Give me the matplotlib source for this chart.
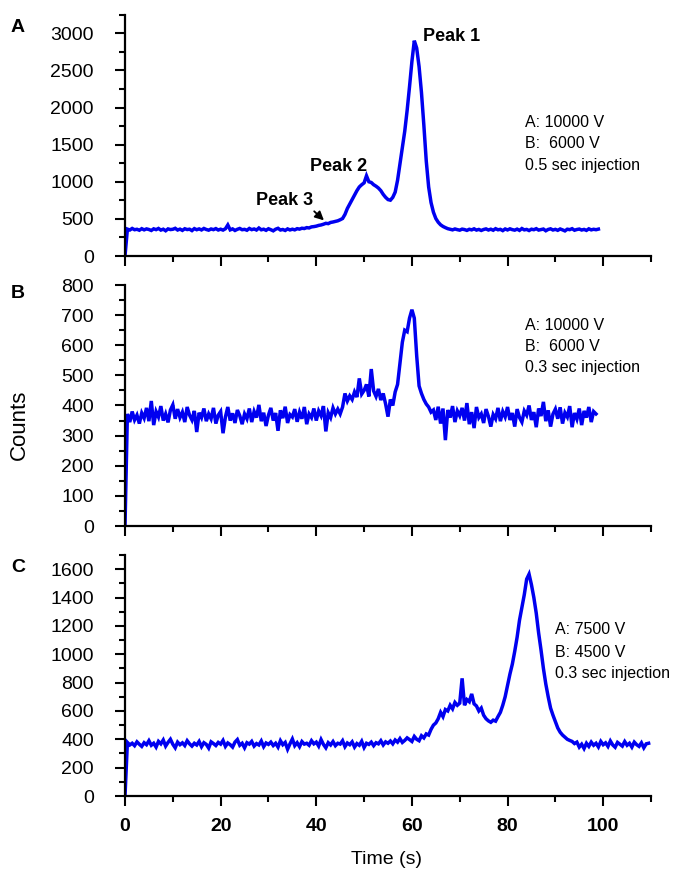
import numpy as np
import matplotlib
matplotlib.use("Agg")
import matplotlib.pyplot as plt
from matplotlib.ticker import MultipleLocator

plt.rcParams['font.family'] = ['Liberation Sans', 'DejaVu Sans']

# Electropherograms sampled every 0.5 s
step = 0.5

counts_a = [
    0, 362, 350, 371, 354, 360, 347, 368, 352, 365,
    357, 344, 366, 355, 371, 349, 361, 340, 365, 356,
    360, 373, 350, 362, 345, 367, 356, 361, 342, 369,
    354, 365, 351, 371, 357, 348, 364, 355, 369, 350,
    361, 349, 367, 418, 352, 365, 344, 360, 371, 354,
    359, 347, 371, 355, 364, 350, 377, 353, 361, 346,
    367, 354, 339, 361, 373, 350, 357, 344, 365, 351,
    361, 352, 368, 362, 374, 370, 382, 378, 392, 396,
    402, 412, 418, 428, 440, 436, 452, 458, 466, 474,
    488, 505, 560, 640, 700, 760, 820, 880, 930, 960,
    985, 1080, 1000, 990, 960, 940, 915, 880, 830, 790,
    760, 752, 790, 860, 1020, 1240, 1450, 1680, 1960, 2280,
    2620, 2900, 2800, 2550, 2200, 1760, 1280, 930, 720, 590,
    505, 455, 420, 398, 382, 368, 360, 352, 364, 355,
    348, 362, 356, 345, 360, 352, 366, 349, 358, 344,
    357, 365, 350, 361, 347, 368, 353, 359, 342, 364,
    351, 366, 355, 348, 362, 345, 370, 352, 358, 343,
    361, 354, 368, 349, 356, 363, 340, 358, 366, 350,
    359, 346, 364, 352, 338, 361, 355, 368, 347, 357,
    363, 350, 358, 345, 366, 352, 360, 354, 362,
]

counts_b = [
    0, 372, 345, 380, 352, 368, 340, 375, 358, 392,
    348, 415, 335, 380, 362, 398, 350, 372, 344, 385,
    402, 356, 388, 360, 378, 345, 395, 368, 352, 382,
    312, 376, 360, 390, 348, 372, 356, 392, 340, 368,
    380, 308, 362, 395, 350, 374, 342, 385, 366, 338,
    372, 356, 390, 345, 380, 360, 402, 348, 376, 332,
    368, 392, 350, 375, 316, 384, 358, 396, 342, 370,
    362, 388, 346, 378, 356, 395, 338, 372, 360, 390,
    350, 382, 366, 398, 314, 376, 360, 392, 372, 388,
    372, 395, 440, 415, 432, 420, 445, 428, 490, 438,
    450, 470, 430, 521, 448, 430, 455, 418, 440, 405,
    363, 420, 400, 445, 470, 540, 610, 650, 645, 690,
    718, 690, 565, 465, 440, 420, 405, 395, 378, 385,
    352, 396, 340, 390, 285, 385, 360, 398, 345, 382,
    366, 392, 350, 408, 338, 378, 325, 395, 360, 372,
    342, 388, 364, 330, 370, 356, 392, 348, 380, 362,
    395, 352, 375, 330, 388, 360, 345, 382, 368, 400,
    352, 378, 328, 390, 365, 412, 348, 384, 330, 372,
    388, 356, 394, 340, 376, 362, 398, 328, 375, 355,
    390, 335, 382, 360, 395, 345, 380, 372,
]

counts_c = [
    0, 378, 360, 372, 355, 382, 365, 350, 376, 362,
    390, 358, 372, 345, 385, 368, 395, 352, 378, 400,
    365, 340, 380, 362, 375, 356, 390, 368, 352, 372,
    360, 385, 348, 376, 364, 338, 382, 370, 356, 378,
    366, 392, 350, 374, 362, 345, 380, 398, 358, 372,
    340, 376, 366, 385, 352, 370, 360, 388, 348, 374,
    364, 380, 356, 372, 345, 390, 362, 378, 330, 368,
    402, 355, 376, 348, 384, 366, 372, 358, 390, 368,
    380, 352, 398, 364, 340, 376, 360, 384, 355, 372,
    366, 390, 348, 374, 362, 382, 345, 370, 358, 386,
    342, 372, 364, 380, 355, 376, 368, 390, 360, 382,
    372, 388, 368, 395, 380, 405, 378, 392, 410, 398,
    385, 420, 400, 390, 425, 410, 438, 430, 470, 500,
    515, 545, 590, 560, 610, 600, 640, 615, 660, 640,
    655, 830, 640, 680, 665, 720, 650, 635, 600, 620,
    570, 545, 530, 520, 535, 528, 560, 590, 640, 700,
    780, 860, 930, 1020, 1120, 1240, 1330, 1420, 1530, 1565,
    1490, 1400, 1290, 1150, 1030, 900, 790, 700, 620, 570,
    525, 480, 450, 430, 415, 400, 392, 385, 370, 380,
    345, 365, 335, 372, 350, 380, 358, 372, 346, 385,
    362, 375, 350, 388, 360, 344, 378, 365, 352, 384,
    358, 372, 345, 380, 362, 350, 375, 340, 368, 372,
]

panel_letters = ["A", "B", "C"]
conditions = [
    ["A: 10000 V", "B:  6000 V", "0.5 sec injection"],
    ["A: 10000 V", "B:  6000 V", "0.3 sec injection"],
    ["A: 7500 V", "B: 4500 V", "0.3 sec injection"],
]
x_ticks = [0, 20, 40, 60, 80, 100]

W, H = 673, 871
fig = plt.figure(figsize=(W / 100, H / 100), dpi=100)

left, right = 125 / W, 651 / W
rects = [
    (left, 1 - 256 / H, right - left, (256 - 14.7) / H),
    (left, 1 - 526 / H, right - left, (526 - 285) / H),
    (left, 1 - 796 / H, right - left, (796 - 555) / H),
]
ylims = [3250, 800, 1700]
ymajor = [500, 100, 200]
yminor = [250, 50, 100]
cond_y = [(1796, 1518, 1216), (665, 595, 525), (1172, 1011, 861)]
cond_x = [83.7, 83.7, 90.0]
letter_y = [27, 293, 567]

blue = "#0000f0"
series = [counts_a, counts_b, counts_c]

for i, (rect, counts) in enumerate(zip(rects, series)):
    ax = fig.add_axes(rect)
    t = np.arange(len(counts)) * step
    ax.plot(t, counts, color=blue, lw=2.5, solid_joinstyle='miter')
    ax.set_xlim(0, 110)
    ax.set_ylim(0, ylims[i])
    for s in ("top", "right"):
        ax.spines[s].set_visible(False)
    for s in ("left", "bottom"):
        ax.spines[s].set_linewidth(1.6)
    ax.set_xticks(x_ticks)
    ax.xaxis.set_minor_locator(MultipleLocator(10))
    ax.yaxis.set_major_locator(MultipleLocator(ymajor[i]))
    ax.yaxis.set_minor_locator(MultipleLocator(yminor[i]))
    ax.tick_params(which="major", direction="out", length=7.5, width=1.5)
    ax.tick_params(which="minor", direction="out", length=4, width=1.5)
    ax.tick_params(axis="y", which="major", labelsize=14, pad=15)
    ax.tick_params(axis="x", which="major", labelsize=14, pad=8)
    if i < 2:
        ax.tick_params(axis="x", labelbottom=False)
    else:
        for lab in ax.get_xticklabels():
            lab.set_fontweight("bold")
    for k, line in enumerate(conditions[i]):
        ax.text(cond_x[i], cond_y[i][k], line, fontsize=11.5,
                ha="left", va="center")
    fig.text(18 / W, 1 - letter_y[i] / H, panel_letters[i],
             fontsize=14, fontweight="bold", ha="center", va="center")
    if i == 0:
        ax.text(62.3, 2960, "Peak 1", fontsize=13, fontweight="bold",
                ha="left", va="center")
        ax.text(38.7, 1203, "Peak 2", fontsize=13, fontweight="bold",
                ha="left", va="center")
        ax.annotate("Peak 3", xy=(41.6, 480), xytext=(27.4, 754),
                    fontsize=13, fontweight="bold", ha="left", va="center",
                    arrowprops=dict(arrowstyle="-|>", color="black", lw=1.3,
                                    mutation_scale=13,
                                    shrinkA=0, shrinkB=0,
                                    relpos=(0.95, 0.05)))

fig.text(387 / W, 1 - 859 / H, "Time (s)", fontsize=14,
         ha="center", va="center")
fig.text(19 / W, 1 - 425 / H, "Counts", fontsize=16, rotation=90,
         ha="center", va="center")

fig.savefig("out.png", dpi=100)
